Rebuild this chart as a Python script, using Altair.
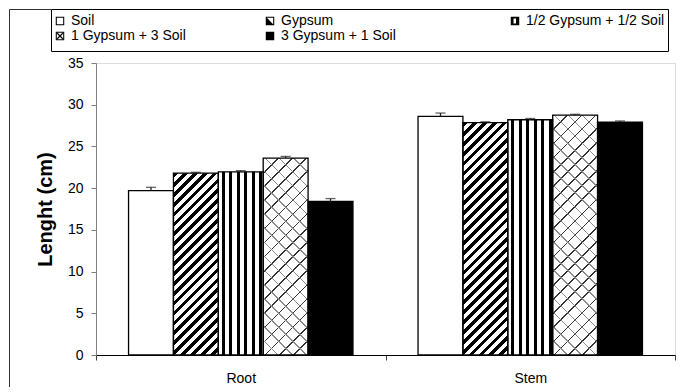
import math
import altair as alt
import pandas as pd

# ---------------- data ----------------
groups = ["Root", "Stem"]
treatments = ["Soil", "Gypsum", "1/2 Gypsum + 1/2 Soil", "1 Gypsum + 3 Soil", "3 Gypsum + 1 Soil"]
root_values = [19.7, 21.8, 21.95, 23.6, 18.4]
root_errors = [0.4, 0.1, 0.15, 0.2, 0.35]
stem_values = [28.6, 27.85, 28.2, 28.75, 27.9]
stem_errors = [0.4, 0.1, 0.15, 0.1, 0.15]
y_ticks = [0, 5, 10, 15, 20, 25, 30, 35]

rows = []
for g, vals, errs in ((groups[0], root_values, root_errors), (groups[1], stem_values, stem_errors)):
    for t, v, e in zip(treatments, vals, errs):
        rows.append({"part": g, "treatment": t, "value": v, "top": v + e})
df = pd.DataFrame(rows)

# ---------------- layout ----------------
W, H = 579, 292
YMAX = 35
OUTER = 0.725
FONT = "Liberation Sans"
bar_w = (W / len(groups)) / (len(treatments) + 2 * OUTER)

x_enc = alt.X("part:N", sort=groups,
              scale=alt.Scale(domain=groups, paddingInner=0, paddingOuter=0),
              axis=alt.Axis(title=None, labelAngle=0, tickBand="extent", ticks=True, tickSize=5,
                            tickColor="#404040", domainColor="black", labelFontSize=14,
                            labelFont=FONT, labelColor="black", labelPadding=11))
xo_enc = alt.XOffset("treatment:N",
                     scale=alt.Scale(domain=treatments, paddingInner=0, paddingOuter=OUTER))
y_axis = alt.Axis(title="Lenght (cm)", values=y_ticks, grid=False, tickSize=5,
                  tickColor="#808080", domainColor="#808080", labelPadding=8,
                  labelFontSize=14, labelFont=FONT, labelColor="black",
                  titleFontSize=20, titleFontWeight="bold", titleFont=FONT,
                  titleColor="black", titlePadding=12)
y_enc = alt.Y("value:Q", scale=alt.Scale(domain=[0, YMAX], nice=False), axis=y_axis)


def stripes_stops(span, period, frac, dark, light, phase=0.0):
    pt = period / span
    stops = []
    a = -phase * pt
    while a < 1:
        s0 = max(a, 0.0)
        b = min(max(a + frac * pt, 0.0), 1.0)
        c = min(a + pt, 1.0)
        stops += [alt.GradientStop(color=dark, offset=s0), alt.GradientStop(color=dark, offset=b),
                  alt.GradientStop(color=light, offset=b), alt.GradientStop(color=light, offset=c)]
        a += pt
    return stops


def diag_gradient(h, period, frac, dark, light, direction):
    w = bar_w
    dx = w * (w + h) / (w * w + h * h)
    dy = h * (w + h) / (w * w + h * h)
    span = (w + h) / math.sqrt(2)
    stops = stripes_stops(span, period, frac, dark, light)
    if direction == "/":
        return alt.LinearGradient(gradient="linear", stops=stops, x1=0, y1=0, x2=dx, y2=dy)
    return alt.LinearGradient(gradient="linear", stops=stops, x1=0, y1=1, x2=dx, y2=1 - dy)


def bars(data_filter, **mark):
    return alt.Chart(df).transform_filter(data_filter).mark_bar(**mark).encode(
        x=x_enc, xOffset=xo_enc, y=y_enc)


layers = []
# white base for all bars
layers.append(alt.Chart(df).mark_bar(fill="white").encode(x=x_enc, xOffset=xo_enc, y=y_enc))
# solid black
layers.append(bars(alt.datum.treatment == treatments[4], fill="black"))
# vertical stripes (horizontal gradient)
vgrad = alt.LinearGradient(gradient="linear", x1=0, y1=0, x2=1, y2=0,
                           stops=stripes_stops(bar_w, 7.5, 0.42, "black", "white", phase=0.55))
layers.append(bars(alt.datum.treatment == treatments[2], fill=vgrad))
# diagonal stripes and brick-like crosshatch, one per bar (gradient is relative to the bar's box)
for g, vals in ((groups[0], root_values), (groups[1], stem_values)):
    hg = vals[1] * H / YMAX
    layers.append(bars((alt.datum.treatment == treatments[1]) & (alt.datum.part == g),
                       fill=diag_gradient(hg, 7.0, 0.48, "black", "white", "/")))
    hc = vals[3] * H / YMAX
    layers.append(bars((alt.datum.treatment == treatments[3]) & (alt.datum.part == g),
                       fill=diag_gradient(hc, 10.0, 0.12, "#333333", "rgba(255,255,255,0)", "/")))
    layers.append(bars((alt.datum.treatment == treatments[3]) & (alt.datum.part == g),
                       fill=diag_gradient(hc, 10.0, 0.11, "#8a8a8a", "rgba(255,255,255,0)", "\\")))
# outlines
layers.append(alt.Chart(df).mark_bar(fill="transparent", stroke="black", strokeWidth=1.3)
              .encode(x=x_enc, xOffset=xo_enc, y=y_enc))
# error bars
layers.append(alt.Chart(df).mark_rule(color="#222222", strokeWidth=1.3)
              .encode(x=x_enc, xOffset=xo_enc, y=y_enc, y2="top:Q"))
layers.append(alt.Chart(df).mark_tick(color="#222222", thickness=1.3, size=10)
              .encode(x=x_enc, xOffset=xo_enc,
                      y=alt.Y("top:Q", scale=alt.Scale(domain=[0, YMAX], nice=False), axis=y_axis)))

# frame and legend box
one = alt.Data(values=[{"k": 0}])
layers.append(alt.Chart(one).mark_rule(color="#333333", strokeWidth=1)
              .encode(x=alt.value(-86.5), y=alt.value(-53.5), y2=alt.value(H + 60)))
layers.append(alt.Chart(one).mark_rule(color="#333333", strokeWidth=1)
              .encode(y=alt.value(-53.5), x=alt.value(-86.5), x2=alt.value(-44.5)))
layers.append(alt.Chart(one).mark_rect(fill="white", stroke="black", strokeWidth=1)
              .encode(x=alt.value(-44.5), x2=alt.value(572.5), y=alt.value(-53.5), y2=alt.value(-11.5)))

# legend via invisible points; symbol outlines are part of the filled path
FRAME = "M-1,-1H1V1H-1Z M-0.75,-0.75V0.75H0.75V-0.75Z"
sym_paths = [
    FRAME,
    FRAME + " M-0.75,-0.75L0.75,0.75L-0.75,0.75Z",
    "M-1,-1H1V1H-1Z M-0.35,-0.6V0.6H0.25V-0.6Z",
    FRAME + " M-0.75,-0.55L-0.55,-0.75L0.75,0.55L0.55,0.75Z M0.55,-0.75L0.75,-0.55L-0.55,0.75L-0.75,0.55Z",
    "M-1,-1H1V1H-1Z",
]
pad = "\u00a0" * 9 + "\u200b"
leg = alt.Legend(orient="none", legendX=-43, legendY=-49, columns=3, direction="horizontal",
                 title=None, labelFont=FONT, labelFontSize=14, labelColor="black", labelLimit=400,
                 symbolSize=72, symbolStrokeWidth=0, symbolOpacity=1, symbolFillColor="black",
                 columnPadding=77, rowPadding=1, labelOffset=4, padding=0,
                 labelExpr="datum.label == '" + treatments[4] + "' ? datum.label + '" + pad + "' : datum.label")
layers.append(alt.Chart(df).mark_point(size=0, filled=True, fill="black", opacity=1)
              .encode(x=x_enc, xOffset=xo_enc, y=y_enc,
                      shape=alt.Shape("treatment:N", scale=alt.Scale(domain=treatments, range=sym_paths), legend=leg)))

chart = alt.layer(*layers).properties(
    width=W, height=H,
    autosize=alt.AutoSizeParams(type="none"),
    padding={"left": 88, "top": 55, "right": 5, "bottom": 32},
    background="white",
).configure_view(stroke=None).configure(font=FONT)

chart.save("out.html", embed_options={"renderer": "svg", "actions": False})
